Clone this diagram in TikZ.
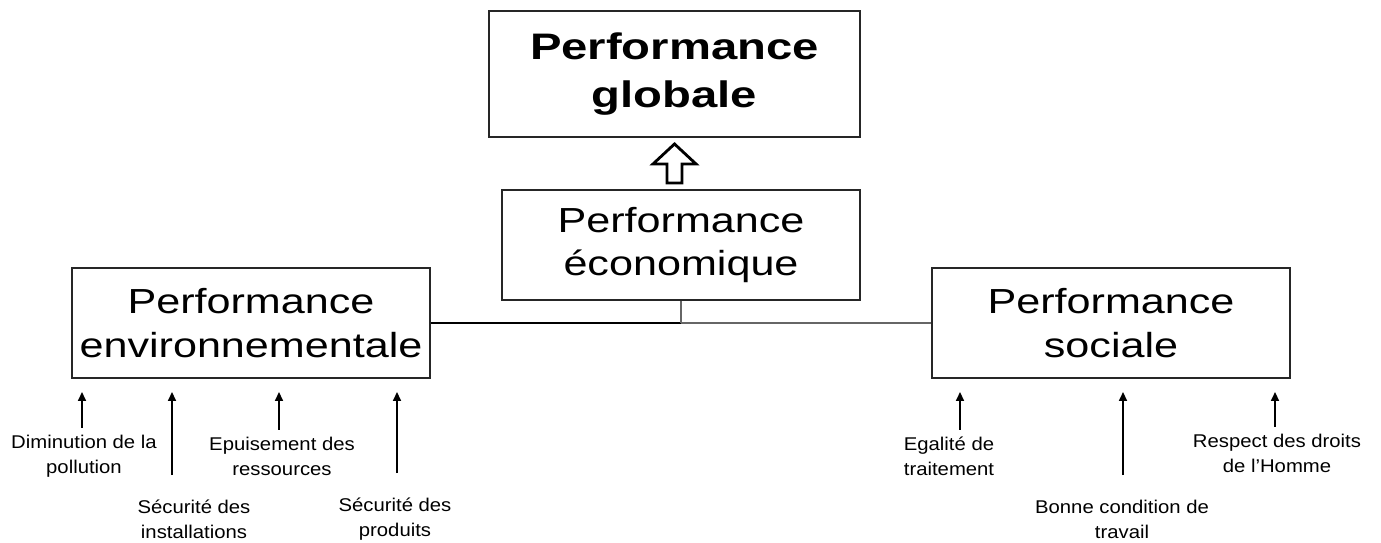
\documentclass[tikz,border=0pt]{standalone}
\usepackage{fontspec}
\setmainfont{Liberation Sans}
\newfontfamily\boxfont[FakeStretch=1.24]{Liberation Sans}
\newfontfamily\topfont[FakeStretch=1.28]{Liberation Sans}
\newfontfamily\itemfont[FakeStretch=1.1]{Liberation Sans}
\usetikzlibrary{arrows.meta}

\begin{document}
\begin{tikzpicture}[x=0.02cm,y=-0.02cm,>={Triangle[length=5pt,width=4.5pt]},line join=miter,
    perf node/.style={draw=black!85,line width=1.1pt,align=center,inner sep=0pt,minimum width=7.16cm,minimum height=2.2cm,font=\boxfont\fontsize{19.8}{24.9}\selectfont},
    item node/.style={align=center,inner sep=0pt,outer sep=4pt,font=\itemfont\fontsize{10.5}{14.2}\selectfont},
    far item/.style={item node,outer sep=14pt}]
    \useasboundingbox (0,0) rectangle (1381,542);

    \node[perf node,minimum width=7.42cm,minimum height=2.52cm,font=\topfont\bfseries\fontsize{21}{27.2}\selectfont] (glob) at (674.5,74) {Performance\\globale};
    \node[perf node] (eco) at (681,245) {Performance\\économique};
    \node[perf node] (env) at (251,323) {Performance\\environnementale};
    \node[perf node] (soc) at (1111,323) {Performance\\sociale};

    % hollow arrow up to the global box
    \draw[line width=1.6pt] (glob.south) ++(0,6) -- ++(21.5,20) -- ++(-14,0) -- ++(0,19) -- ++(-15,0) -- ++(0,-19) -- ++(-14,0) -- cycle;

    \coordinate (mid) at (eco.south |- env.east);
    \draw[line width=1.3pt] (env.east) -- (mid);
    \draw[black!60,line width=0.8pt] (mid) -- (soc.west);
    \draw[black!60,line width=0.8pt] (eco.south) -- (mid);

    % environnement
    \node[item node] (dimi) at (84,456) {Diminution de la\\pollution};
    \node[far item] (secinst) at (194,519) {Sécurité des\\installations};
    \node[item node] (epuis) at (282,456) {Epuisement des\\ressources};
    \node[far item] (secprod) at (395,519) {Sécurité des\\produits};
    % social
    \node[item node] (egal) at (949,456) {Egalité de\\traitement};
    \node[far item] (bonne) at (1122,519) {Bonne condition de\\travail};
    \node[item node] (droits) at (1277,453) {Respect des droits\\de l’Homme};

    \coordinate (tdimi) at (82,392);
    \coordinate (tsecinst) at (172,392);
    \coordinate (tepuis) at (279,392);
    \coordinate (tsecprod) at (397,392);
    \coordinate (tegal) at (960,392);
    \coordinate (tbonne) at (1123,392);
    \coordinate (tdroits) at (1275,392);

    \path[->,line width=0.85pt]
        (dimi.north -| tdimi) edge (tdimi)
        (secinst.north -| tsecinst) edge (tsecinst)
        (epuis.north -| tepuis) edge (tepuis)
        (secprod.north -| tsecprod) edge (tsecprod)
        (egal.north -| tegal) edge (tegal)
        (bonne.north -| tbonne) edge (tbonne)
        (droits.north -| tdroits) edge (tdroits)
        ;
\end{tikzpicture}
\end{document}
